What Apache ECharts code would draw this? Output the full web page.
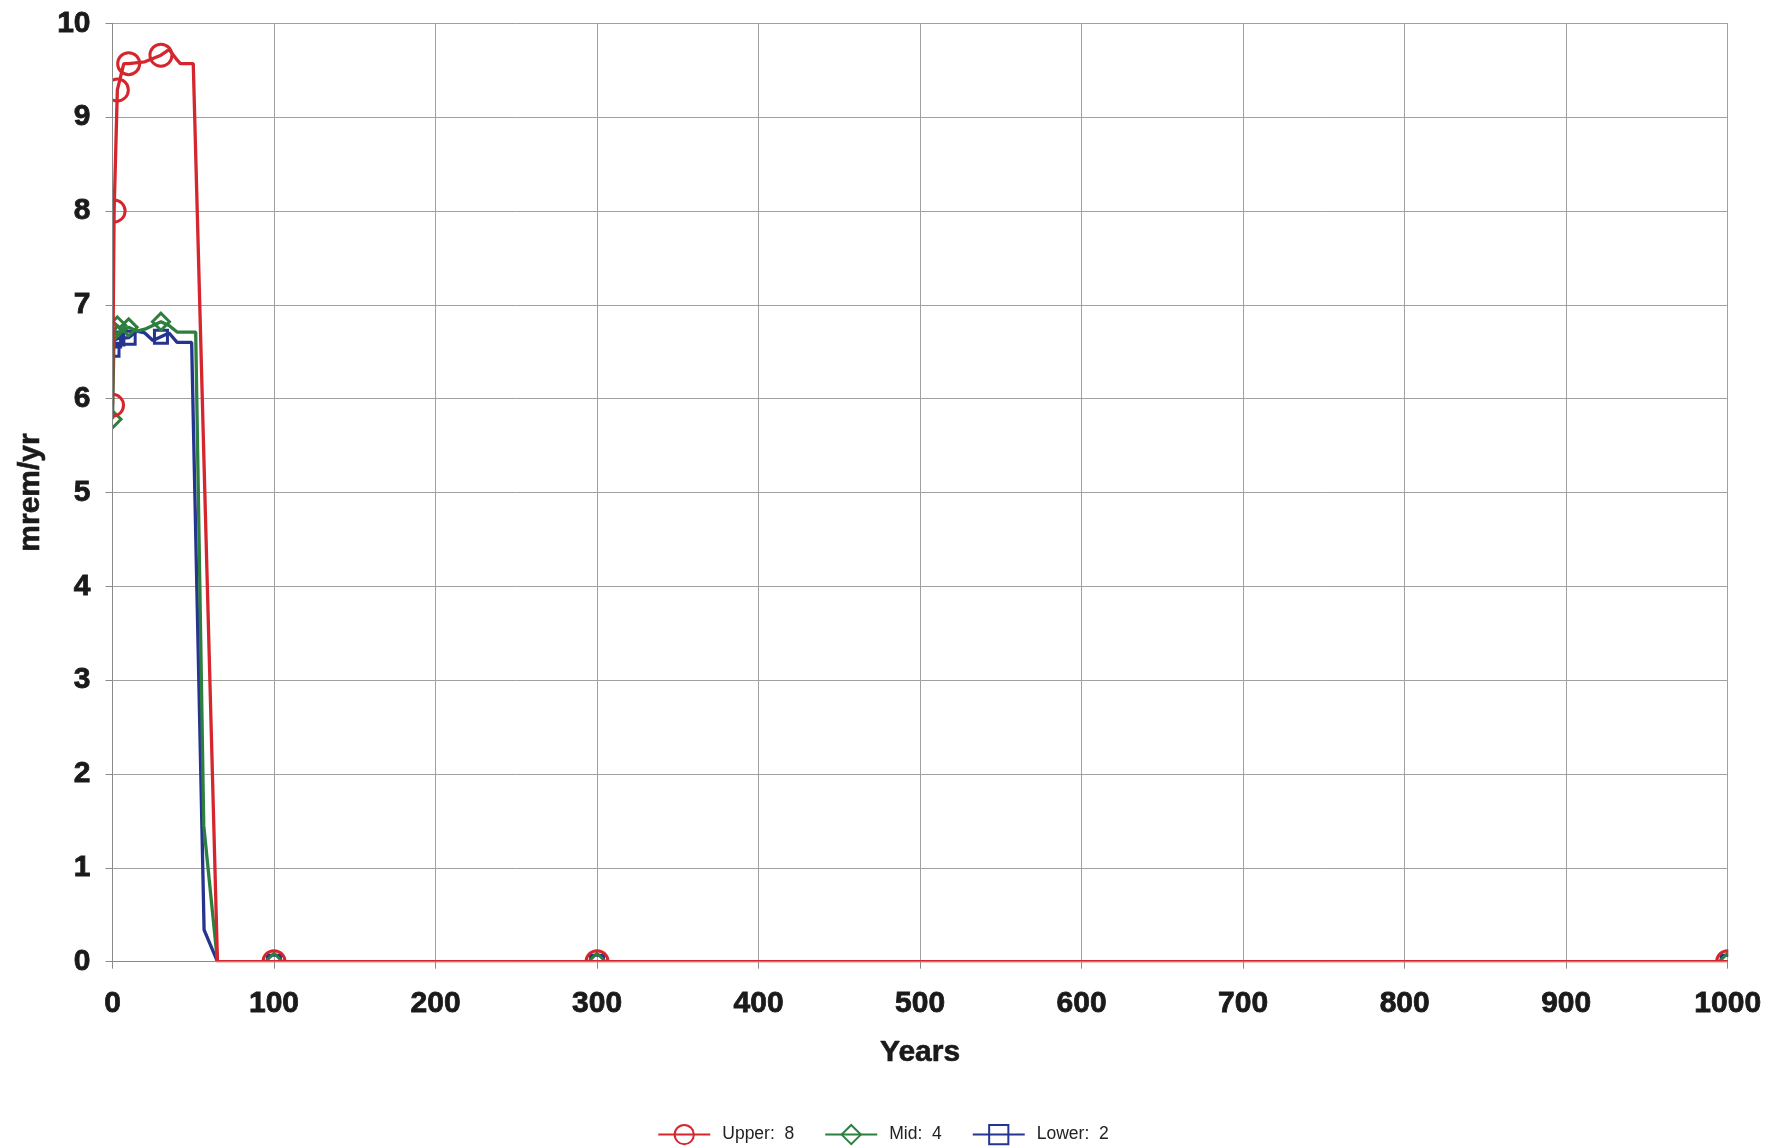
<!DOCTYPE html>
<html>
<head>
<meta charset="utf-8">
<title>Dose vs. time</title>
<script src="https://cdn.jsdelivr.net/npm/echarts@6/dist/echarts.min.js"></script>
<style>
  html, body { margin: 0; padding: 0; background: #ffffff; }
  #chart { width: 1766px; height: 1146px; }
</style>
</head>
<body>
<div id="chart"></div>
<script>
// Dose (mrem/yr) over time (years) for three cases
const markerYears = [0, 1, 3, 10, 30, 100, 300, 1000];

const upperYears = [0, 1, 3, 7, 10, 20, 30, 35, 40, 42, 50, 65, 100, 300, 1000];
const upperDose  = [5.93, 8.0, 9.29, 9.57, 9.57, 9.59, 9.66, 9.72, 9.61, 9.57, 9.57, 0, 0, 0, 0];

const midYears = [0, 1, 3, 6, 10, 15, 20, 30, 35, 40, 51.5, 56.5, 65, 100, 300, 1000];
const midDose  = [5.78, 6.72, 6.78, 6.72, 6.76, 6.72, 6.74, 6.82, 6.78, 6.71, 6.71, 1.45, 0, 0, 0, 0];

const lowerYears = [0, 1, 3, 10, 15, 20, 25, 30, 35, 40, 49, 56.7, 65, 100, 300, 1000];
const lowerDose  = [6.52, 6.62, 6.64, 6.65, 6.72, 6.70, 6.62, 6.66, 6.70, 6.60, 6.60, 0.34, 0, 0, 0, 0];

const seriesNames = ['Upper:  8', 'Mid:  4', 'Lower:  2'];
const seriesColors = ['#d5262d', '#2d7f3f', '#24348f'];

const yTicks = { min: 0, max: 10, interval: 1 };
const xTicks = { min: 0, max: 1000, interval: 100 };

// plot area
const G = { left: 112.5, right: 38.3, top: 23.3, bottom: 184.3 };
const W = 1766, H = 1146;

function points(years, dose) {
  return years.map((t, i) => {
    const item = { value: [t, dose[i]] };
    if (!markerYears.includes(t)) item.symbol = 'none';
    return item;
  });
}

function makeSeries(idx, years, dose, symbol, size, z) {
  const c = seriesColors[idx];
  return {
    name: seriesNames[idx],
    type: 'line',
    xAxisIndex: 0,
    yAxisIndex: 0,
    data: points(years, dose),
    symbol: symbol,
    symbolSize: size,
    showAllSymbol: true,
    clip: false,
    z: z,
    lineStyle: { color: c, width: 3.3 },
    itemStyle: { color: 'rgba(255,255,255,0)', borderColor: c, borderWidth: 3 },
    emphasis: { disabled: true }
  };
}

const font = '"Liberation Sans", Arial, Helvetica, sans-serif';
const gridColor = '#a0a0a0';
const axisColor = '#8a8a8a';
const textColor = '#1a1a1a';

const tickLabel = {
  fontFamily: font, fontWeight: 'bold', fontSize: 30, color: textColor,
  textBorderColor: textColor, textBorderWidth: 0.8
};
const axisName = {
  fontFamily: font, fontWeight: 'bold', fontSize: 30, color: textColor,
  textBorderColor: textColor, textBorderWidth: 0.6
};

const chart = echarts.init(document.getElementById('chart'), null, { renderer: 'canvas' });

const baseX = { type: 'value', min: xTicks.min, max: xTicks.max, interval: xTicks.interval, gridIndex: 0 };
const baseY = { type: 'value', min: yTicks.min, max: yTicks.max, interval: yTicks.interval, gridIndex: 0 };

chart.setOption({
  animation: false,
  backgroundColor: '#ffffff',
  grid: { left: G.left, right: G.right, top: G.top, bottom: G.bottom, containLabel: false },
  xAxis: [
    // grid lines only, drawn beneath the curves
    Object.assign({}, baseX, {
      position: 'bottom',
      axisLine: { show: false },
      axisTick: { show: false },
      axisLabel: { show: false },
      splitLine: { show: true, lineStyle: { color: gridColor, width: 1 } },
      z: 0
    }),
    // axis line, ticks, labels and title, drawn on top
    Object.assign({}, baseX, {
      position: 'bottom',
      name: 'Years',
      nameLocation: 'middle',
      nameGap: 76,
      nameTextStyle: axisName,
      axisLine: { show: true, onZero: false, lineStyle: { color: axisColor, width: 1 } },
      axisTick: { show: true, length: 7, lineStyle: { color: axisColor } },
      splitLine: { show: false },
      axisLabel: Object.assign({ margin: 27, formatter: v => String(v) }, tickLabel),
      z: 20
    })
  ],
  yAxis: [
    Object.assign({}, baseY, {
      position: 'left',
      axisLine: { show: false },
      axisTick: { show: false },
      axisLabel: { show: false },
      splitLine: { show: true, lineStyle: { color: gridColor, width: 1 } },
      z: 0
    }),
    Object.assign({}, baseY, {
      position: 'left',
      name: 'mrem/yr',
      nameLocation: 'middle',
      nameGap: 67,
      nameRotate: 90,
      nameTextStyle: axisName,
      axisLine: { show: true, onZero: false, lineStyle: { color: axisColor, width: 1 } },
      axisTick: { show: true, length: 7, lineStyle: { color: axisColor } },
      splitLine: { show: false },
      axisLabel: Object.assign({ margin: 22 }, tickLabel),
      z: 20
    })
  ],
  legend: {
    top: 1119,
    left: 'center',
    itemWidth: 52,
    itemHeight: 24,
    itemGap: 30,
    textStyle: { fontFamily: font, fontSize: 17.5, color: '#222', padding: [0, 0, 0, 7] },
    data: seriesNames
  },
  // white bands outside the plot area so markers sitting on the edges are cut there
  graphic: [
    { type: 'rect', z: 10, silent: true,
      shape: { x: 0, y: H - G.bottom + 0.6, width: W, height: 16 },
      style: { fill: '#ffffff' } },
    { type: 'rect', z: 10, silent: true,
      shape: { x: G.left - 16, y: 0, width: 15.6, height: H - G.bottom + 16 },
      style: { fill: '#ffffff' } },
    { type: 'rect', z: 10, silent: true,
      shape: { x: W - G.right + 0.6, y: 0, width: 16, height: H - G.bottom + 16 },
      style: { fill: '#ffffff' } }
  ],
  series: [
    makeSeries(0, upperYears, upperDose, 'circle', 22, 5),
    makeSeries(1, midYears, midDose, 'diamond', [17, 17], 4),
    makeSeries(2, lowerYears, lowerDose, 'rect', 13, 3)
  ]
});
</script>
</body>
</html>
